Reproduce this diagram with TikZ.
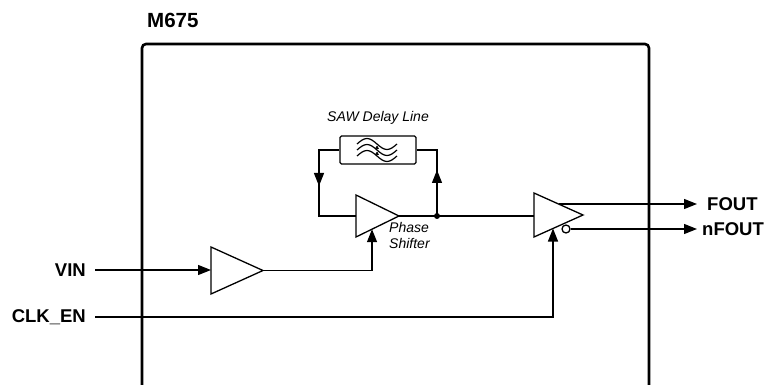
\documentclass[tikz,border=0pt]{standalone}
\usepackage{fontspec}
\setmainfont{Liberation Sans}
\usetikzlibrary{arrows.meta,calc}
\tikzset{
  wire/.style={line width=1.3pt, line join=miter},
  sig/.style={wire, -{Triangle[length=13pt,width=10pt]}},
  amp/.style={line width=1.3pt, line join=miter, fill=white},
  pinlabel/.style={font=\fontsize{18.5}{20}\selectfont\bfseries, inner sep=0pt},
  itlabel/.style={font=\fontsize{14}{16}\selectfont\itshape, inner sep=0pt},
  chip/.style={line width=2.6pt, rounded corners=4pt},
}
\begin{document}
\begin{tikzpicture}[x=1pt,y=-1pt]
\useasboundingbox (0,0) rectangle (769,385);
% chip outline
\draw[chip] (142,400) -- (142,44) -- (649,44) -- (649,400);
\node[pinlabel, anchor=west, font=\fontsize{20.5}{22}\selectfont\bfseries] (title) at (147,20) {M675};

% amplifier vertices
\coordinate (a1t) at (211,247); \coordinate (a1b) at (211,294); \coordinate (a1o) at (263,270.5);
\coordinate (a2t) at (356,195); \coordinate (a2b) at (356,237); \coordinate (a2o) at (399,216);
\coordinate (a3t) at (534,193); \coordinate (a3b) at (534,237); \coordinate (a3o) at (583,215);
\draw[amp] (a1t) -- (a1o) -- (a1b) -- cycle;
\draw[amp] (a2t) -- (a2o) -- (a2b) -- cycle;
\draw[amp] (a3t) -- (a3o) -- (a3b) -- cycle;
\node[circle, draw, line width=1.3pt, fill=white, minimum size=8pt, inner sep=0pt] (bub) at (566,229) {};

% SAW delay line
\node[draw, line width=1.3pt, rounded corners=1.5pt, minimum width=76pt, minimum height=28pt, inner sep=0pt] (saw) at (378,150) {};
\node[itlabel] (sawlbl) at (378,118) {SAW Delay Line};
\foreach \dy in {-6,0,6}{
  \draw[line width=1.2pt] (357,150+\dy) sin (367,144.5+\dy) cos (377,150+\dy) sin (387,155.5+\dy) cos (397,150+\dy);
}
\draw[-{Triangle[length=3.5pt,width=3.5pt]}, line width=0.6pt] (376,147) -- (379,149);
\draw[-{Triangle[length=3.5pt,width=3.5pt]}, line width=0.6pt] (376,153) -- (379,155);

% pins
\node[pinlabel, anchor=east] (vin) at (86,270) {VIN};
\node[pinlabel, anchor=east] (clk) at (86,317) {CLK\_EN};
\node[pinlabel, anchor=west] (fout) at (707,204) {FOUT};
\node[pinlabel, anchor=west] (nfout) at (702,229) {nFOUT};
\coordinate (vinS) at (95,270);
\coordinate (clkS) at (95,317);
\coordinate (foutE) at (697,204);
\coordinate (nfoutE) at (697,229);

% connections
\draw[sig] (vinS) -- (a1t |- vinS);
\coordinate (psin) at (372,229.2);
\draw[sig] (a1o) -| (psin);
\coordinate (clkin) at (553,228.5);
\draw[sig] (clkS) -| (clkin);
\draw[sig] (558.5,204) -- (foutE);
\draw[sig] (bub.east) -- (nfoutE);

% feedback loop
\coordinate (dot) at (437,216);
\draw[wire] (a2o) -- (a3t |- a2o);
\fill (dot) circle (3pt);
\draw[wire] (dot) |- (saw.east);
\draw[sig] (dot) -- (437,170);
\draw[wire] (saw.west) -| (319,216) -- (a2t |- a2o);
\draw[sig] (319,150) -- (319,186);

\node[itlabel, anchor=north west, align=left] (pslbl) at (389,222) {Phase\\Shifter};
\end{tikzpicture}
\end{document}
